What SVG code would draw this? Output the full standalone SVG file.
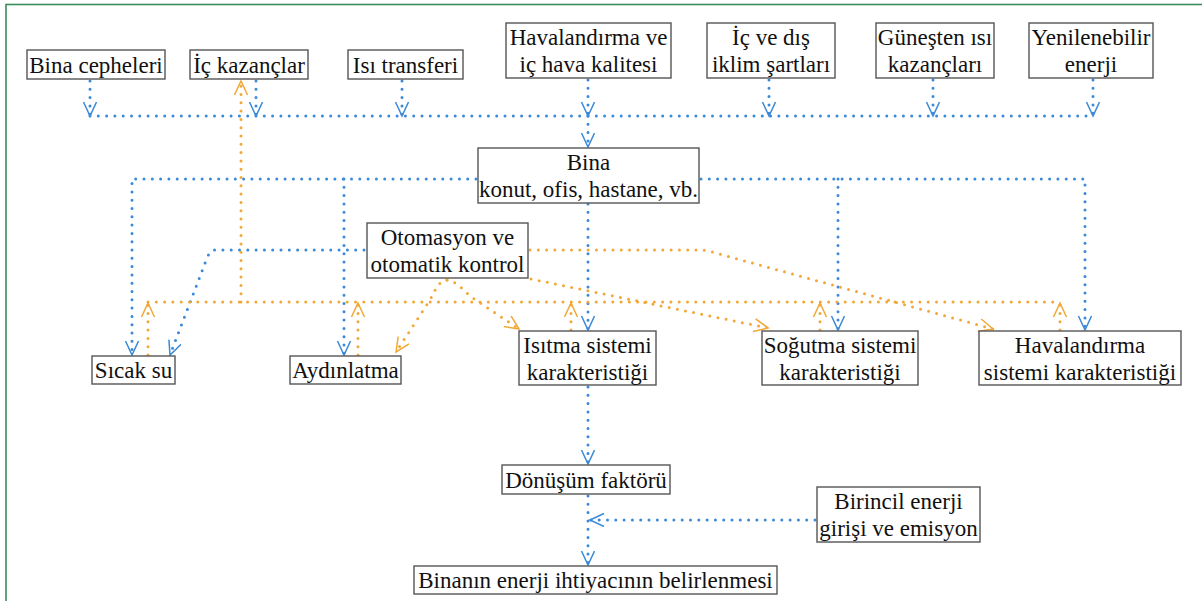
<svg xmlns="http://www.w3.org/2000/svg" width="1202" height="601" viewBox="0 0 1202 601">
<style>
.box{fill:#fff;stroke:#555;stroke-width:1.4}
.t{font-family:"Liberation Serif","Times New Roman",serif;font-size:23px;fill:#111;text-anchor:middle}
.b{fill:none;stroke:#3b89d9;stroke-width:3;stroke-dasharray:0 8.3;stroke-linecap:round}
.o{fill:none;stroke:#f2a836;stroke-width:3;stroke-dasharray:0 8.3;stroke-linecap:round}
.ba{marker-end:url(#ab)}
.oa{marker-end:url(#ao)}
</style>
<defs>
<marker id="ab" markerUnits="userSpaceOnUse" markerWidth="18" markerHeight="16" refX="15" refY="7" orient="auto">
<path d="M1,0.5 L15,7 L1,13.5" fill="none" stroke="#3b89d9" stroke-width="1.5"/>
</marker>
<marker id="ao" markerUnits="userSpaceOnUse" markerWidth="18" markerHeight="16" refX="15" refY="7" orient="auto">
<path d="M1,0.5 L15,7 L1,13.5" fill="none" stroke="#f2a836" stroke-width="1.5"/>
</marker>
</defs>
<rect x="6" y="4.5" width="1220" height="620" fill="#fff" stroke="#3c8c5c" stroke-width="1.6"/>

<g id="connectors">
<path class="b ba" d="M90,81 V116"/>
<path class="b ba" d="M256,81 V116"/>
<path class="b ba" d="M402,81 V116"/>
<path class="b ba" d="M588,80 V116"/>
<path class="b ba" d="M769,80 V116"/>
<path class="b ba" d="M933,80 V116"/>
<path class="b ba" d="M1093,80 V116"/>
<path class="b" d="M90,116 H1093"/>
<path class="b ba" d="M588,116 V147"/>
<path class="b ba" d="M476,179 H132 V355"/>
<path class="b ba" d="M344,179 V355"/>
<path class="b ba" d="M701,179 H1085 V330"/>
<path class="b ba" d="M838,179 V330"/>
<path class="b ba" d="M588,204 V330"/>
<path class="b ba" d="M364,250 H216 Q210,250 207,258 L170,355"/>
<path class="b ba" d="M588,387 V464"/>
<path class="b ba" d="M588,496 V565"/>
<path class="b ba" d="M815,520 H590"/>

<path class="o" d="M148,302 H1060"/>
<path class="o oa" d="M241,302 V81"/>
<path class="o oa" d="M148,355 V303"/>
<path class="o oa" d="M358,355 V303"/>
<path class="o oa" d="M571,330 V303"/>
<path class="o oa" d="M820,330 V303"/>
<path class="o oa" d="M1060,330 V303"/>
<path class="o oa" d="M530,250 H700 Q706,250 712,252 L993,329"/>
<path class="o oa" d="M531,279 L768,328"/>
<path class="o oa" d="M447,280 C455,281 462,288 470,296 L519,329"/>
<path class="o oa" d="M447,280 C440,280 436,288 430,300 L396,352"/>
</g>

<g id="n-bina-cepheleri"><rect class="box" x="27" y="50" width="138" height="29"/><text class="t" x="96" y="73">Bina cepheleri</text></g>
<g id="n-ic-kazanclar"><rect class="box" x="190" y="50" width="118" height="29"/><text class="t" x="249" y="73">İç kazançlar</text></g>
<g id="n-isi-transferi"><rect class="box" x="348" y="50" width="115" height="29"/><text class="t" x="405.5" y="73">Isı transferi</text></g>
<g id="n-havalandirma"><rect class="box" x="506" y="23" width="165" height="55"/><text class="t" x="588.5" y="45">Havalandırma ve</text><text class="t" x="588.5" y="72">iç hava kalitesi</text></g>
<g id="n-iklim"><rect class="box" x="707" y="23" width="128" height="55"/><text class="t" x="771" y="45">İç ve dış</text><text class="t" x="771" y="72">iklim şartları</text></g>
<g id="n-gunes"><rect class="box" x="876" y="23" width="118" height="55"/><text class="t" x="935" y="45">Güneşten ısı</text><text class="t" x="935" y="72">kazançları</text></g>
<g id="n-yenilenebilir"><rect class="box" x="1029" y="23" width="124" height="55"/><text class="t" x="1091" y="45">Yenilenebilir</text><text class="t" x="1091" y="72">enerji</text></g>
<g id="n-bina"><rect class="box" x="478" y="148" width="221" height="55"/><text class="t" x="588.5" y="170">Bina</text><text class="t" x="588.5" y="197">konut, ofis, hastane, vb.</text></g>
<g id="n-otomasyon"><rect class="box" x="367" y="223" width="161" height="55"/><text class="t" x="447.5" y="245">Otomasyon ve</text><text class="t" x="447.5" y="272">otomatik kontrol</text></g>
<g id="n-sicak-su"><rect class="box" x="92" y="356" width="83" height="28"/><text class="t" x="133.5" y="378">Sıcak su</text></g>
<g id="n-aydinlatma"><rect class="box" x="290" y="356" width="111" height="28"/><text class="t" x="345.5" y="378">Aydınlatma</text></g>
<g id="n-isitma"><rect class="box" x="519" y="331" width="137" height="54"/><text class="t" x="587.5" y="353">Isıtma sistemi</text><text class="t" x="587.5" y="380">karakteristiği</text></g>
<g id="n-sogutma"><rect class="box" x="762" y="331" width="156" height="54"/><text class="t" x="840" y="353">Soğutma sistemi</text><text class="t" x="840" y="380">karakteristiği</text></g>
<g id="n-havalandirma-sistemi"><rect class="box" x="979" y="331" width="202" height="54"/><text class="t" x="1080" y="353">Havalandırma</text><text class="t" x="1080" y="380">sistemi karakteristiği</text></g>
<g id="n-donusum"><rect class="box" x="502" y="465" width="168" height="29"/><text class="t" x="586" y="488">Dönüşüm faktörü</text></g>
<g id="n-birincil"><rect class="box" x="817" y="487" width="163" height="55"/><text class="t" x="898.5" y="509">Birincil enerji</text><text class="t" x="898.5" y="536">girişi ve emisyon</text></g>
<g id="n-binanin"><rect class="box" x="414" y="566" width="363" height="28"/><text class="t" x="595.5" y="588">Binanın enerji ihtiyacının belirlenmesi</text></g>
</svg>
